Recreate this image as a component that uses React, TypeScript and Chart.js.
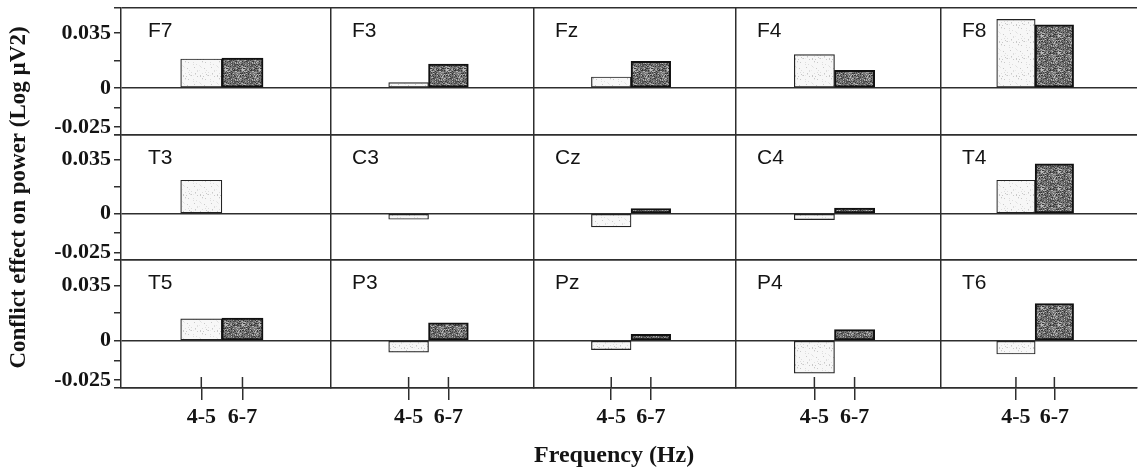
import React, { useEffect, useRef } from 'react';
import { Chart, registerables } from 'chart.js';

Chart.register(...registerables);

// ---- data ----
const electrodes = ['F7', 'F3', 'Fz', 'F4', 'F8', 'T3', 'C3', 'Cz', 'C4', 'T4', 'T5', 'P3', 'Pz', 'P4', 'T6'];
const bandCenters = [4.5, 6.5];
const bandLabels = ['4-5', '6-7'];
// conflict effect on power (Log µV2), 4-5 Hz band
const power45 = [0.0185, 0.0034, 0.007, 0.0213, 0.0437, 0.0217, -0.0036, -0.0085, -0.0038, 0.0217, 0.0138, -0.0073, -0.0057, -0.0206, -0.0085];
// conflict effect on power (Log µV2), 6-7 Hz band
const power67 = [0.019, 0.0153, 0.017, 0.0113, 0.0402, 0, 0, 0.0034, 0.0036, 0.0323, 0.0142, 0.0112, 0.004, 0.007, 0.0234];
const yLabelValues = [0.035, 0, -0.025];
const yLabelTexts = ['0.035', '0', '-0.025'];
const yMinorTicks = [0.0175, -0.0125];
const yTitle = 'Conflict effect on power (Log µV2)';
const xTitle = 'Frequency (Hz)';

// ---- layout constants ----
const ROWS = 3;
const COLS = 5;
const Y_MIN = -0.03;
const Y_MAX = 0.051;
const X_MIN = 0.6;
const X_MAX = 10.8;
const colWeights = [210, 203, 202, 205, 196];
const rowWeights = [127, 125, 128];

const INK = '#141414';
const LINE = '#2e2e2e';
const CLEAR = 'rgba(0,0,0,0)';
const SERIF = '"Liberation Serif", "Times New Roman", serif';

function makePattern(base: string, spots: string[], threshold: number): CanvasPattern | string {
  const N = 17;
  const c = document.createElement('canvas');
  c.width = N;
  c.height = N;
  const g = c.getContext('2d');
  if (!g) return base;
  g.fillStyle = base;
  g.fillRect(0, 0, N, N);
  for (let i = 0; i < N; i++) {
    for (let j = 0; j < N; j++) {
      // deterministic integer hash for a speckled texture
      let h = (i * 374761393 + j * 668265263) | 0;
      h = (h ^ (h >>> 13)) * 1274126177;
      h = (h ^ (h >>> 16)) >>> 0;
      const k = h % 100;
      if (k < threshold) {
        g.fillStyle = spots[k % spots.length];
        g.fillRect(i, j, 1, 1);
      }
    }
  }
  const p = g.createPattern(c, 'repeat');
  return p || base;
}

const decorPlugin = {
  id: 'panelDecor',
  afterDraw(chart: any) {
    const ctx = chart.ctx as CanvasRenderingContext2D;
    const area = chart.chartArea;
    ctx.save();
    ctx.strokeStyle = LINE;
    ctx.lineWidth = 1.5;
    for (let c = 0; c < COLS; c++) {
      const s = chart.scales['x' + c];
      for (const v of bandCenters) {
        const px = s.getPixelForValue(v);
        ctx.beginPath();
        ctx.moveTo(px, area.bottom - 11);
        ctx.lineTo(px, area.bottom);
        ctx.stroke();
      }
    }
    ctx.font = '21px "Liberation Sans"';
    ctx.fillStyle = INK;
    ctx.textAlign = 'left';
    ctx.textBaseline = 'middle';
    for (let r = 0; r < ROWS; r++) {
      for (let c = 0; c < COLS; c++) {
        const xs = chart.scales['x' + c];
        const ys = chart.scales['y' + r];
        ctx.fillText(electrodes[r * COLS + c], xs.left + (c === 0 ? 27 : 21), ys.top + 23);
      }
    }
    ctx.restore();
  },
};

export default function App() {
  const ref = useRef<HTMLCanvasElement>(null);

  useEffect(() => {
    if (!ref.current) return;
    const light = makePattern('#f7f7f7', ['#c9c9c9', '#dedede', '#e9e9e9'], 12);
    const dark = makePattern('#767676', ['#363636', '#525252', '#a0a0a0', '#bababa', '#454545'], 55);

    const scales: any = {};
    for (let c = 0; c < COLS; c++) {
      scales['x' + c] = {
        type: 'linear',
        position: 'bottom',
        stack: 'cols',
        stackWeight: colWeights[c],
        weight: c,
        min: X_MIN,
        max: X_MAX,
        offset: false,
        afterBuildTicks: (s: any) => {
          s.ticks = [X_MIN, ...bandCenters].map((v) => ({ value: v }));
        },
        afterFit: (s: any) => {
          s.height = 85;
          s.paddingLeft = 0;
          s.paddingRight = 0;
        },
        ticks: {
          autoSkip: false,
          maxRotation: 0,
          minRotation: 0,
          padding: 4,
          color: INK,
          font: { family: SERIF, size: 22, weight: 'bold' },
          callback: (v: number) => {
            const i = bandCenters.indexOf(v);
            return i >= 0 ? bandLabels[i] : '';
          },
        },
        grid: {
          offset: false,
          drawOnChartArea: true,
          lineWidth: 1.5,
          tickLength: 12,
          tickWidth: 1.5,
          color: (ctx: any) => (ctx.tick && ctx.tick.value === X_MIN && c > 0 ? LINE : CLEAR),
          tickColor: (ctx: any) => (ctx.tick && ctx.tick.value !== X_MIN ? LINE : CLEAR),
        },
        border: { display: true, color: LINE, width: 1.5 },
        title:
          c === 2
            ? {
                display: true,
                text: xTitle,
                align: 'start',
                color: INK,
                font: { family: SERIF, size: 24, weight: 'bold' },
                padding: { top: 0, bottom: 3 },
              }
            : { display: false },
      };
    }
    for (let r = 0; r < ROWS; r++) {
      scales['y' + r] = {
        type: 'linear',
        position: 'left',
        stack: 'rows',
        stackWeight: rowWeights[r],
        weight: ROWS - r,
        min: Y_MIN,
        max: Y_MAX,
        beginAtZero: false,
        afterBuildTicks: (s: any) => {
          s.ticks = [Y_MIN, ...yLabelValues, ...yMinorTicks, Y_MAX]
            .sort((a, b) => a - b)
            .map((v) => ({ value: v }));
        },
        afterFit: (s: any) => {
          s.width = 121;
          s.paddingTop = 0;
          s.paddingBottom = 0;
        },
        ticks: {
          autoSkip: false,
          padding: 3,
          color: INK,
          font: { family: SERIF, size: 22, weight: 'bold' },
          callback: (v: number) => {
            const i = yLabelValues.indexOf(v);
            return i >= 0 ? yLabelTexts[i] : '';
          },
        },
        grid: {
          lineWidth: 1.5,
          tickLength: 7,
          tickWidth: 1.5,
          color: (ctx: any) => {
            const v = ctx.tick ? ctx.tick.value : NaN;
            return v === 0 || v === Y_MIN || v === Y_MAX ? LINE : CLEAR;
          },
          tickColor: LINE,
        },
        border: { display: true, color: LINE, width: 1.5 },
        title:
          r === 1
            ? {
                display: true,
                text: yTitle,
                color: INK,
                font: { family: SERIF, size: 23, weight: 'bold' },
                padding: { top: 5, bottom: 0 },
              }
            : { display: false },
      };
    }

    const datasets = electrodes.map((name, i) => {
      const r = Math.floor(i / COLS);
      const c = i % COLS;
      return {
        label: name,
        xAxisID: 'x' + c,
        yAxisID: 'y' + r,
        data: [
          { x: bandCenters[0], y: power45[i] },
          { x: bandCenters[1], y: power67[i] },
        ],
        grouped: false,
        categoryPercentage: 1,
        barPercentage: 1,
        borderSkipped: false,
        backgroundColor: [light, dark],
        borderColor: ['#222222', '#111111'],
        borderWidth: [1.2, 2],
      };
    });

    const chart = new Chart(ref.current, {
      type: 'bar',
      data: { datasets: datasets as any },
      options: {
        animation: false,
        responsive: false,
        maintainAspectRatio: false,
        devicePixelRatio: 1,
        layout: { padding: { top: 8, right: 6, left: 0, bottom: 0 } },
        plugins: { legend: { display: false }, tooltip: { enabled: false }, title: { display: false } },
        scales,
      } as any,
      plugins: [decorPlugin],
    });
    return () => chart.destroy();
  }, []);

  return (
    <div style={{ position: 'absolute', left: 0, top: 0, width: 1143, height: 473, background: '#ffffff' }}>
      <canvas ref={ref} width={1143} height={473} style={{ display: 'block', width: 1143, height: 473 }} />
    </div>
  );
}
